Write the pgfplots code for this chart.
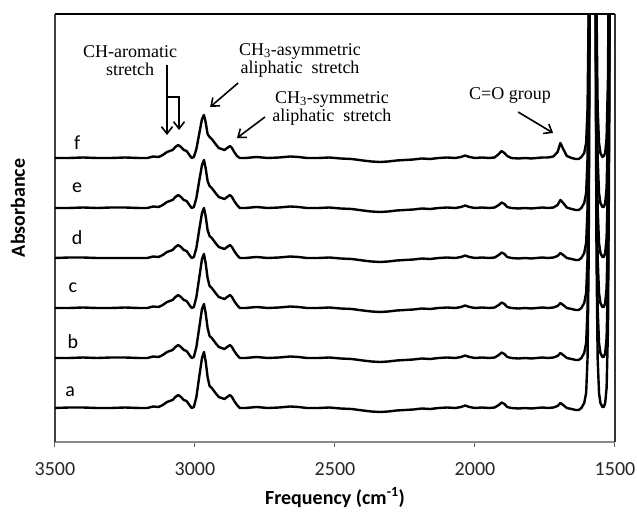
\documentclass[border=0pt]{standalone}
\usepackage{pgfplots}
\pgfplotsset{compat=1.18}
\usepackage{pgfplotstable}
\usepackage{fontspec}
\setmainfont{Liberation Serif}
\newfontfamily\calibri{Carlito}
\usetikzlibrary{arrows.meta}

% x = wavenumber, columns a..f = stacked absorbance traces (offset baselines)
\pgfplotstableread{
x a b c d e f
3500 34 84 134 184 234 284
3450 34.5 84 134 184.5 234 284
3400 34.5 84.5 134.5 184.5 234.5 284.5
3350 34 84 134 184 234 284
3300 34 84.5 134 184 234.5 284
3250 34.5 84.5 134.5 184 234.5 284.5
3200 34 84 134 184 234 284
3170 34 84 134 184 234 284
3150 35.5 85.5 135.5 185.5 235.5 285.5
3130 35 85 135 185 235 285
3115 37 87 137 187 237 287
3100 40 90 140 190 240 290
3090 41 91 141 191 241 291
3080 42 92 142 192 242 292
3070 45 95 145 195 245 295
3060 47 97 147 197 247 297
3050 45 95 145 195 245 295
3040 42 92 142 192 242 292
3030 41 91 141 191 241 291
3020 37 87 137 187 237 287
3012 34 84 134 184 234 284
3004 35 85 135 185 235 285
2995 45 95 145 194 244 293
2985 65 114 164 212 261 308
2975 84 133 183 229 277 323
2968 90 138 188 234 282 327
2962 81 129 179 226 274 320
2955 65 114 164 212 261 308
2948 56 106 156 206 256 305
2940 54 104 154 204 254 303
2932 51 101 151 201 251 300
2924 48 98 148 198 248 297
2915 45 95 145 195 245 294
2905 44 94 144 194 244 293
2895 43 93 143 193 243 292
2885 45 95 145 195 245 294
2875 47 97 147 197 247 296
2868 45 95 145 195 245 294
2860 41 91 141 191 241 290
2850 37 87 137 187 237 286
2840 34 84 134 184 234 284
2820 34 84 134 184 234 284
2780 35 85 135 185 235 285
2740 34 84 134 184 234 284
2700 34.5 84.5 134.5 184.5 234.5 284.5
2660 35.5 85.5 135.5 185.5 235.5 285.5
2630 35 85 135 185 235 285
2600 34 84 134 184 234 284
2560 34 84 134 184 234 284
2520 34.5 84.5 134.5 184.5 234.5 284.5
2480 33.5 83.5 133.5 183.5 233.5 283.5
2440 33 83 133 183 233 283
2400 31.5 81.5 131.5 181.5 231.5 281.5
2370 30.5 80.5 130.5 180.5 230.5 280.5
2340 30 80 130 180 230 280
2310 30.5 80.5 130.5 180.5 230.5 280.5
2280 31.5 81.5 131.5 181.5 231.5 281.5
2250 32 82 132 182 232 282
2220 32.5 82.5 132.5 182.5 232.5 282.5
2190 33.5 83.5 133.5 183.5 233.5 283.5
2160 33 83 133 183 233 283
2130 34 84 134 184 234 284
2100 34.5 84.5 134.5 184.5 234.5 284.5
2070 34 84 134 184 234 284
2050 35 85 135 185 235 285
2035 36.5 86.5 136.5 186.5 236.5 286.5
2020 35 85 135 185 235 285
2000 34 84 134 184 234 284
1975 34.5 84.5 134.5 184.5 234.5 284.5
1950 34 84 134 184 234 284
1930 34.5 84.5 134.5 184.5 234.5 284.5
1915 37 87 137 187 237 288
1905 39.5 89.5 139.5 189.5 239.5 291
1895 38 88 138 188 238 289
1885 35 85 135 185 235 286
1870 34 84 134 184 234 284
1845 33.5 83.5 133.5 183.5 233.5 283.5
1820 34 84 134 184 234 284
1800 33.5 83.5 133.5 183.5 233.5 283.5
1780 34 84 134 184 234 284
1760 34.5 84.5 134.5 184.5 234.5 284.5
1740 34 84 134 184 234 284.5
1720 34.5 84.5 134.5 184.5 234.5 285.5
1705 36 86 136 186 237 290
1695 39 89 139 189 242 299
1685 37 87 137 187 239 293
1672 34 84 134 184 234.5 286
1655 33 83 133 183 233 284
1640 32 82 132 182 232 283
1630 32 82 132 182 232 283
1620 34 84 134 184 234 285
1610 39 89 139 189 239 289
1603 49 99 149 199 249 299
1598 84 134 184 234 284 334
1594 184 234 284 334 384 434
1590 454 504 554 604 654 704
1586 934 984 1034 1084 1134 1184
1575 934 984 1034 1084 1134 1184
1570 454 504 554 604 654 704
1566 184 234 284 334 384 434
1562 84 134 184 234 284 334
1557 49 99 149 199 249 299
1552 39 89 139 189 239 289
1545 35 85 135 185 235 285
1540 35 85 135 185 235 286
1535 39 89 139 189 239 289
1530 54 104 154 204 254 304
1525 114 164 214 264 314 364
1520 334 384 434 484 534 584
1515 934 984 1034 1084 1134 1184
1500 1234 1284 1334 1384 1434 1484
}\spectra

\begin{document}
\begin{tikzpicture}
\useasboundingbox (-55pt,-71pt) rectangle (582pt,442pt);
\begin{axis}[
    name=ax,
    scale only axis,
    width=560pt, height=428pt,
    xmin=1500, xmax=3500, x dir=reverse,
    ymin=0, ymax=428,
    axis x line*=bottom, axis y line*=left,
    x axis line style={draw=black!45, line width=1.6pt},
    y axis line style={draw=black!75, line width=1.6pt},
    xtick={1500,2000,2500,3000,3500},
    ytick=\empty,
    tick align=outside,
    major tick length=5pt,
    x tick style={draw=black!60, line width=1pt},
    /pgf/number format/assume math mode=true,
    /pgf/number format/set thousands separator={},
    ticklabel style={font=\calibri\fontsize{20}{24}\selectfont, text=black!85},
    xticklabel style={yshift=-12pt},
    xlabel={Frequency (cm\textsuperscript{-1})},
    xlabel style={font=\calibri\bfseries\fontsize{20}{24}\selectfont,
        at={(axis description cs:0.5,-0.13)}, anchor=center},
    ylabel={Absorbance},
    ylabel style={font=\calibri\bfseries\fontsize{20}{24}\selectfont,
        at={(axis description cs:-0.066,0.547)}, anchor=center},
    trace/.style={black, line width=2.4pt, line join=round, no markers},
]
\addplot[trace] table[x=x, y=a] \spectra;
\addplot[trace] table[x=x, y=b] \spectra;
\addplot[trace] table[x=x, y=c] \spectra;
\addplot[trace] table[x=x, y=d] \spectra;
\addplot[trace] table[x=x, y=e] \spectra;
\addplot[trace] table[x=x, y=f] \spectra;

% trace letters
\begin{scope}[font=\calibri\fontsize{20}{24}\selectfont]
\node at (axis cs:3421,299) {f};
\node at (axis cs:3421,254) {e};
\node at (axis cs:3421,204) {d};
\node at (axis cs:3436,154) {c};
\node at (axis cs:3436,100) {b};
\node at (axis cs:3446,50) {a};
\end{scope}

% annotations
\begin{scope}[font=\fontsize{18}{18}\selectfont, align=center]
\node at (axis cs:3232,381) {CH-aromatic\\stretch};
\node at (axis cs:2625,382) {CH\textsubscript{3}-asymmetric\\aliphatic\ \ stretch};
\node at (axis cs:2511,334) {CH\textsubscript{3}-symmetric\\aliphatic\ \ stretch};
\node at (axis cs:1875,347) {C=O group};
\end{scope}
\begin{scope}[line width=1.6pt, -{Straight Barb[length=7pt,width=11pt]}]
\draw (axis cs:3100,377) -- (axis cs:3100,307);
\draw (axis cs:3100,345) -- (axis cs:3057,345) -- (axis cs:3057,312);
\draw (axis cs:2846,359) -- (axis cs:2946,335);
\draw (axis cs:2750,325) -- (axis cs:2850,304);
\draw (axis cs:1846,330) -- (axis cs:1721,309);
\end{scope}
\end{axis}
% frame on top and right
\draw[black, line width=2.6pt] (ax.north west) -- (ax.north east);
\draw[black!80, line width=1.6pt] (ax.north east) -- (ax.south east);
\end{tikzpicture}
\end{document}
